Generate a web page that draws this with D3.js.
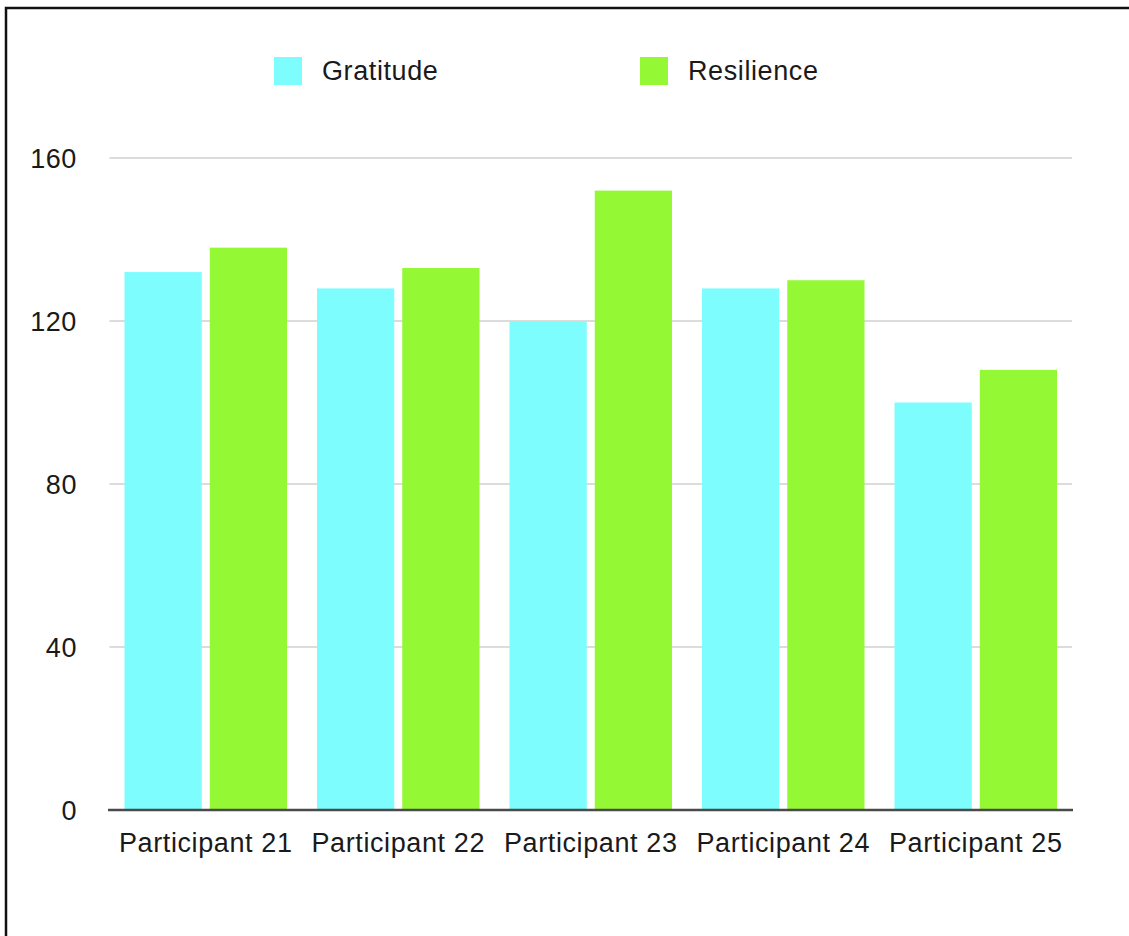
<!DOCTYPE html>
<html>
<head>
<meta charset="utf-8">
<script src="https://cdn.jsdelivr.net/npm/d3@7"></script>
<style>
  html, body { margin: 0; padding: 0; background: #fff; }
  svg { display: block; }
  text { font-family: "Liberation Sans", Arial, Helvetica, sans-serif; fill: #1a1a1a; letter-spacing: 0.6px; }
</style>
</head>
<body>
<svg id="chart" width="1129" height="936"></svg>
<script>
// Scores per participant
const participants = ["Participant 21", "Participant 22", "Participant 23", "Participant 24", "Participant 25"];
const seriesNames = ["Gratitude", "Resilience"];
const gratitude = [132, 128, 120, 128, 100];
const resilience = [138, 133, 152, 130, 108];
const yTicks = [0, 40, 80, 120, 160];
const seriesColors = ["#7dfdfe", "#94f835"];

const svg = d3.select("#chart");
const W = 1129, H = 936;
const FONT = 27;

// Frame around the figure (open on right and bottom)
svg.append("path")
  .attr("d", `M6,${H + 5} L6,8 L${W + 5},8`)
  .attr("fill", "none")
  .attr("stroke", "#111")
  .attr("stroke-width", 2.5);

const plot = { left: 109.5, right: 1072, top: 158, bottom: 810 };

const x0 = d3.scaleBand()
  .domain(participants)
  .range([plot.left, plot.right])
  .paddingInner(0)
  .paddingOuter(0);

const x1 = d3.scaleBand()
  .domain(seriesNames)
  .range([15, x0.bandwidth() - 15])
  .paddingInner(8 / 85);

const y = d3.scaleLinear()
  .domain([0, 160])
  .range([plot.bottom, plot.top]);

// Horizontal gridlines
svg.append("g")
  .selectAll("line")
  .data(yTicks.filter(t => t > 0))
  .join("line")
  .attr("x1", plot.left)
  .attr("x2", plot.right)
  .attr("y1", d => y(d))
  .attr("y2", d => y(d))
  .attr("stroke", "#d0d0d0")
  .attr("stroke-width", 1.5);

// Y axis labels
const yAxis = d3.axisLeft(y).tickValues(yTicks).tickSize(0).tickPadding(0).tickFormat(d3.format("d"));
const yg = svg.append("g")
  .attr("transform", `translate(77,0)`)
  .call(yAxis);
yg.select(".domain").remove();
yg.selectAll("text")
  .attr("font-size", FONT)
  .attr("fill", "#1a1a1a")
  .attr("dy", "0.35em");

// Bars
const rows = participants.map((p, i) => ({ p, values: [gratitude[i], resilience[i]] }));
const groups = svg.append("g")
  .selectAll("g")
  .data(rows)
  .join("g")
  .attr("transform", d => `translate(${x0(d.p)},0)`);

groups.selectAll("rect")
  .data(d => d.values.map((v, k) => ({ key: seriesNames[k], v, k })))
  .join("rect")
  .attr("x", d => x1(d.key))
  .attr("width", x1.bandwidth())
  .attr("y", d => y(d.v))
  .attr("height", d => y(0) - y(d.v))
  .attr("fill", d => seriesColors[d.k]);

// Baseline
svg.append("line")
  .attr("x1", plot.left - 1.5)
  .attr("x2", plot.right + 1)
  .attr("y1", y(0))
  .attr("y2", y(0))
  .attr("stroke", "#4a4a4a")
  .attr("stroke-width", 2.5);

// X axis labels
const xAxis = d3.axisBottom(x0).tickSize(0).tickPadding(0);
const xg = svg.append("g")
  .attr("transform", `translate(0,${plot.bottom + 33})`)
  .call(xAxis);
xg.select(".domain").remove();
xg.selectAll("text")
  .attr("font-size", FONT)
  .attr("fill", "#1a1a1a")
  .attr("dy", "0.35em");

// Legend
const legendItems = [
  { name: seriesNames[0], color: seriesColors[0], x: 274 },
  { name: seriesNames[1], color: seriesColors[1], x: 640 }
];
const lg = svg.append("g").selectAll("g")
  .data(legendItems)
  .join("g")
  .attr("transform", d => `translate(${d.x},57)`);
lg.append("rect")
  .attr("width", 28)
  .attr("height", 28)
  .attr("fill", d => d.color);
lg.append("text")
  .attr("x", 48)
  .attr("y", 14)
  .attr("dy", "0.35em")
  .attr("font-size", FONT)
  .text(d => d.name);
</script>
</body>
</html>
